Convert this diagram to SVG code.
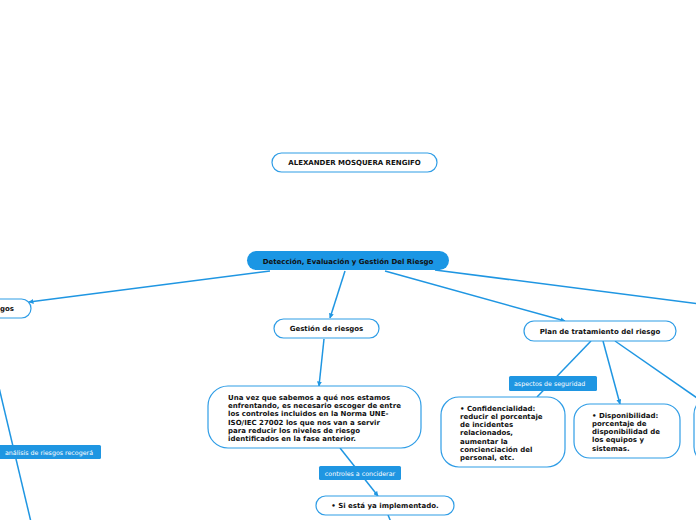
<svg xmlns="http://www.w3.org/2000/svg" width="696" height="520" viewBox="0 0 696 520">
<style>
.n{fill:#fff;stroke:#2f9de6;stroke-width:1.2}
.t{font-family:"DejaVu Sans",Verdana,sans-serif;font-weight:bold;font-size:7px;fill:#111}
.c{fill:none;stroke:#1f96e2;stroke-width:1.5}
.lb{fill:#1f96e2}
.lt{font-family:"DejaVu Sans",Verdana,sans-serif;font-size:6.3px;fill:#fff}
</style>
<defs>
<marker id="a" viewBox="0 0 10 10" refX="9" refY="5" markerWidth="5" markerHeight="5" orient="auto" markerUnits="userSpaceOnUse">
<path d="M0,0 L10,5 L0,10 z" fill="#1f96e2"/>
</marker>
</defs>
<g id="connectors">
<line class="c" x1="270" y1="271" x2="29" y2="302" marker-end="url(#a)"/>
<line class="c" x1="345" y1="271" x2="330" y2="318" marker-end="url(#a)"/>
<line class="c" x1="385" y1="271" x2="565" y2="321" marker-end="url(#a)"/>
<line class="c" x1="435" y1="270" x2="700" y2="304"/>
<line class="c" x1="324" y1="339" x2="319" y2="386" marker-end="url(#a)"/>
<line class="c" x1="340" y1="448" x2="378" y2="496" marker-end="url(#a)"/>
<line class="c" x1="388" y1="515" x2="391" y2="522"/>
<line class="c" x1="591" y1="341" x2="537" y2="397"/>
<line class="c" x1="603" y1="341" x2="620" y2="404" marker-end="url(#a)"/>
<line class="c" x1="615" y1="341" x2="700" y2="400"/>
<line class="c" x1="-4" y1="375" x2="31" y2="522"/>
</g>
<g id="title"><rect class="n" x="272" y="153" width="165" height="19" rx="9.5"/><text class="t" x="354.5" y="165" text-anchor="middle">ALEXANDER MOSQUERA RENGIFO</text></g>
<g id="main"><rect x="247" y="251" width="202" height="19" rx="9.5" fill="#1b96e4"/><text class="t" x="348" y="264" text-anchor="middle">Detección, Evaluación y Gestión Del Riesgo</text></g>
<g id="analisis"><rect class="n" x="-60" y="299" width="91" height="19" rx="9.5"/><text class="t" x="14" y="311" text-anchor="end">gos</text></g>
<g id="gestion"><rect class="n" x="274" y="319" width="105" height="19" rx="9.5"/><text class="t" x="326.5" y="331" text-anchor="middle">Gestión de riesgos</text></g>
<g id="plan"><rect class="n" x="524" y="321" width="152" height="20" rx="10"/><text class="t" x="600" y="334" text-anchor="middle">Plan de tratamiento del riesgo</text></g>
<g id="unavez"><rect class="n" x="208" y="386" width="213" height="62" rx="20"/>
<text class="t" x="228" y="400">Una vez que sabemos a qué nos estamos</text>
<text class="t" x="228" y="408.2">enfrentando, es necesario escoger de entre</text>
<text class="t" x="228" y="416.4">los controles incluidos en la Norma UNE-</text>
<text class="t" x="228" y="424.6">ISO/IEC 27002 los que nos van a servir</text>
<text class="t" x="228" y="432.8">para reducir los niveles de riesgo</text>
<text class="t" x="228" y="441">identificados en la fase anterior.</text>
</g>
<g id="siesta"><rect class="n" x="316" y="496" width="138" height="19" rx="9.5"/><text class="t" x="385" y="508" text-anchor="middle">• Si está ya implementado.</text></g>
<g id="confid"><rect class="n" x="441" y="397" width="124" height="70" rx="18"/>
<text class="t" x="460" y="410.5">• Confidencialidad:</text>
<text class="t" x="460" y="418.8">reducir el porcentaje</text>
<text class="t" x="460" y="427.1">de incidentes</text>
<text class="t" x="460" y="435.4">relacionados,</text>
<text class="t" x="460" y="443.7">aumentar la</text>
<text class="t" x="460" y="452">concienciación del</text>
<text class="t" x="460" y="460.3">personal, etc.</text>
</g>
<g id="dispo"><rect class="n" x="574" y="404" width="106" height="54" rx="16"/>
<text class="t" x="592" y="417.5">• Disponibilidad:</text>
<text class="t" x="592" y="425.8">porcentaje de</text>
<text class="t" x="592" y="434.1">disponibilidad de</text>
<text class="t" x="592" y="442.4">los equipos y</text>
<text class="t" x="592" y="450.7">sistemas.</text>
</g>
<g id="right"><rect class="n" x="694" y="398" width="60" height="65" rx="16"/></g>
<g id="labels">
<rect class="lb" x="319" y="466" width="82" height="14" rx="1.5"/><text class="lt" x="360" y="475.5" text-anchor="middle">controles a conciderar</text>
<rect class="lb" x="509" y="376" width="88" height="15" rx="1.5"/><text class="lt" x="514" y="386">aspectos de seguridad</text>
<rect class="lb" x="-60" y="445" width="161" height="14" rx="1.5"/><text class="lt" x="93" y="454.5" text-anchor="end">análisis de riesgos recogerá</text>
</g>
</svg>
